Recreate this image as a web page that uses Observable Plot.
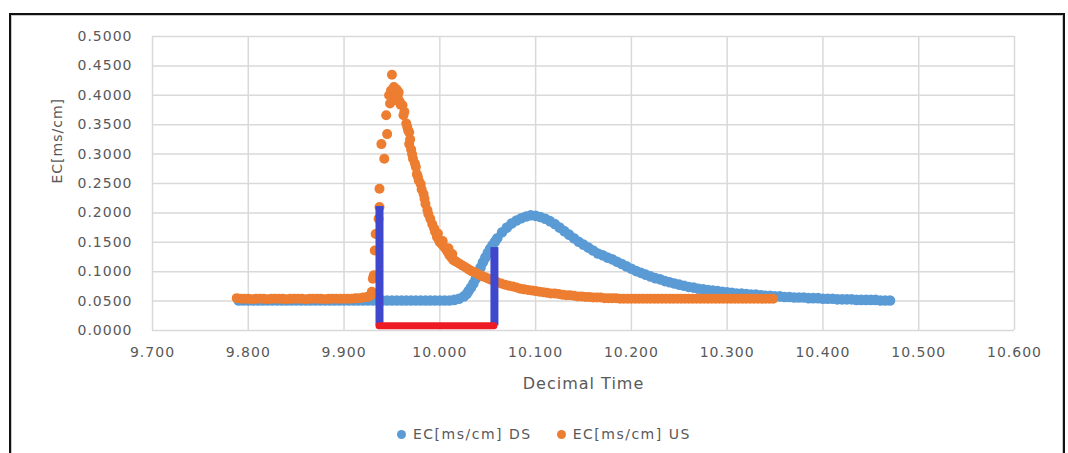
<!DOCTYPE html>
<html>
<head>
<meta charset="utf-8">
<script src="https://cdn.jsdelivr.net/npm/d3@7"></script>
<script src="https://cdn.jsdelivr.net/npm/@observablehq/plot@0.6"></script>
<style>
  html, body { margin: 0; padding: 0; background: #fff; }
  body { width: 1068px; height: 453px; overflow: hidden; position: relative; font-family: "DejaVu Sans", sans-serif; }
  #frame { position: absolute; left: 9px; top: 12.5px; width: 1056px; height: 520px; box-sizing: border-box;
           border: 2.5px solid #111; box-shadow: inset 0 0 0 1px #c8c8c8; }
  #chart { position: absolute; left: 0; top: 0; }
  #chart text { letter-spacing: 1px; }
  #legend { position: absolute; left: 397px; top: 425px; display: flex; align-items: center; gap: 25px;
            font-size: 14px; letter-spacing: 1.5px; color: #595959; white-space: nowrap; }
  .item { display: flex; align-items: center; gap: 7px; line-height: 18px; }
  .sw { width: 9px; height: 9px; border-radius: 50%; display: inline-block; }
</style>
</head>
<body>
<div id="frame"></div>
<div id="chart"></div>
<div id="legend"></div>
<script>
// ---- axis ticks ----
const xTicks = [9.7, 9.8, 9.9, 10.0, 10.1, 10.2, 10.3, 10.4, 10.5, 10.6];
const yTicks = [0, 0.05, 0.1, 0.15, 0.2, 0.25, 0.3, 0.35, 0.4, 0.45, 0.5];
const seriesNames = ["EC[ms/cm] DS", "EC[ms/cm] US"];
const seriesColors = ["#5B9BD5", "#ED7D31"];
const xLabel = "Decimal Time";
const yLabel = "EC[ms/cm]";

// ---- DS series (blue) ----
const dsTime = [
  9.790, 9.795, 9.800, 9.805, 9.810, 9.815, 9.820, 9.825, 9.830, 9.835,
  9.840, 9.845, 9.850, 9.855, 9.860, 9.865, 9.870, 9.875, 9.880, 9.885,
  9.890, 9.895, 9.900, 9.905, 9.910, 9.915, 9.920, 9.925, 9.930, 9.935,
  9.940, 9.945, 9.950, 9.955, 9.960, 9.965, 9.970, 9.975, 9.980, 9.985,
  9.990, 9.995, 10.000, 10.005, 10.010, 10.015, 10.020, 10.025, 10.028, 10.030,
  10.0325, 10.035, 10.0375, 10.040, 10.0425, 10.045, 10.0475, 10.050, 10.0525, 10.055,
  10.0575, 10.060, 10.065, 10.070, 10.075, 10.080, 10.085,
  10.090, 10.095, 10.100, 10.105, 10.110, 10.115, 10.120, 10.125, 10.130, 10.135,
  10.140, 10.145, 10.150, 10.155, 10.160, 10.165, 10.170, 10.175, 10.180, 10.185,
  10.190, 10.195, 10.200, 10.205, 10.210, 10.215, 10.220, 10.225, 10.230, 10.235,
  10.240, 10.245, 10.250, 10.255, 10.260, 10.265, 10.270, 10.275, 10.280, 10.285,
  10.290, 10.295, 10.300, 10.305, 10.310, 10.315, 10.320, 10.325, 10.330, 10.335,
  10.340, 10.345, 10.350, 10.355, 10.360, 10.365, 10.370, 10.375, 10.380, 10.385,
  10.390, 10.395, 10.400, 10.405, 10.410, 10.415, 10.420, 10.425, 10.430, 10.435,
  10.440, 10.445, 10.450, 10.455, 10.460, 10.465, 10.470
];
const dsEC = [
  0.051, 0.051, 0.051, 0.051, 0.051, 0.051, 0.051, 0.051, 0.051, 0.051,
  0.051, 0.051, 0.051, 0.051, 0.051, 0.051, 0.051, 0.051, 0.051, 0.051,
  0.051, 0.051, 0.051, 0.051, 0.051, 0.051, 0.051, 0.051, 0.051, 0.051,
  0.051, 0.051, 0.051, 0.051, 0.051, 0.051, 0.051, 0.051, 0.051, 0.051,
  0.051, 0.051, 0.051, 0.051, 0.051, 0.052, 0.054, 0.058, 0.062, 0.067,
  0.073, 0.080, 0.088, 0.097, 0.107, 0.116, 0.124, 0.132, 0.139, 0.145,
  0.151, 0.157, 0.167, 0.175, 0.182, 0.187, 0.191,
  0.194, 0.196, 0.195, 0.193, 0.190, 0.186, 0.181, 0.175, 0.169, 0.163,
  0.157, 0.151, 0.146, 0.141, 0.136, 0.131, 0.128, 0.124, 0.121, 0.117,
  0.113, 0.109, 0.105, 0.101, 0.098, 0.095, 0.092, 0.089, 0.087, 0.084,
  0.082, 0.080, 0.078, 0.076, 0.074, 0.073, 0.071, 0.070, 0.069, 0.068,
  0.067, 0.066, 0.065, 0.064, 0.063, 0.063, 0.062, 0.061, 0.061, 0.060,
  0.059, 0.059, 0.058, 0.058, 0.057, 0.057, 0.056, 0.056, 0.056, 0.055,
  0.055, 0.055, 0.054, 0.054, 0.054, 0.053, 0.053, 0.053, 0.053, 0.052,
  0.052, 0.052, 0.052, 0.052, 0.051, 0.051, 0.051
];

// ---- US series (orange) ----
const usTime = [
  9.788, 9.792, 9.796, 9.800, 9.804, 9.808, 9.812, 9.816, 9.820, 9.824,
  9.828, 9.832, 9.836, 9.840, 9.844, 9.848, 9.852, 9.856, 9.860, 9.864,
  9.868, 9.872, 9.876, 9.880, 9.884, 9.888, 9.892, 9.896, 9.900, 9.904,
  9.908, 9.912, 9.916, 9.920, 9.924, 9.926, 9.928, 9.929, 9.930, 9.931,
  9.932, 9.933, 9.936, 9.937, 9.937, 9.939, 9.942, 9.944, 9.945, 9.947,
  9.948, 9.949, 9.950, 9.951, 9.952, 9.953, 9.954, 9.955, 9.956, 9.957,
  9.958, 9.959, 9.961, 9.962, 9.963, 9.965, 9.966, 9.967, 9.968, 9.968,
  9.969, 9.970, 9.971, 9.972, 9.974, 9.975, 9.976, 9.977, 9.978, 9.980,
  9.981, 9.983, 9.984, 9.985, 9.987, 9.988, 9.990, 9.992, 9.994, 9.995,
  9.997, 9.998, 9.999, 10.000, 10.002, 10.003, 10.004, 10.006, 10.008, 10.009,
  10.010, 10.012, 10.013, 10.014, 10.016, 10.018, 10.021, 10.024, 10.027, 10.030,
  10.033, 10.036, 10.039, 10.042, 10.045, 10.048, 10.051, 10.054, 10.057, 10.060,
  10.064, 10.068, 10.072, 10.076, 10.080, 10.084, 10.088, 10.092, 10.096, 10.100,
  10.104, 10.108, 10.112, 10.116, 10.120, 10.124, 10.128, 10.132, 10.136, 10.140,
  10.144, 10.148, 10.152, 10.156, 10.160, 10.164, 10.168, 10.172, 10.176, 10.180,
  10.184, 10.188, 10.192, 10.196, 10.200, 10.204, 10.208, 10.212, 10.216, 10.220,
  10.224, 10.228, 10.232, 10.236, 10.240, 10.244, 10.248, 10.252, 10.256, 10.260,
  10.264, 10.268, 10.272, 10.276, 10.280, 10.284, 10.288, 10.292, 10.296, 10.300,
  10.304, 10.308, 10.312, 10.316, 10.320, 10.324, 10.328, 10.332, 10.336, 10.340,
  10.344, 10.348
];
const usEC = [
  0.055, 0.054, 0.054, 0.054, 0.053, 0.054, 0.054, 0.054, 0.053, 0.054,
  0.054, 0.054, 0.054, 0.053, 0.054, 0.054, 0.054, 0.054, 0.053, 0.054,
  0.054, 0.054, 0.054, 0.053, 0.054, 0.054, 0.054, 0.054, 0.054, 0.054,
  0.054, 0.055, 0.055, 0.056, 0.057, 0.058, 0.060, 0.066, 0.088, 0.094,
  0.136, 0.164, 0.190, 0.210, 0.241, 0.317, 0.292, 0.366, 0.334, 0.400,
  0.386, 0.408, 0.435, 0.398, 0.414, 0.392, 0.404, 0.410, 0.397, 0.405,
  0.390, 0.384, 0.383, 0.366, 0.372, 0.352, 0.346, 0.340, 0.337, 0.317,
  0.325, 0.308, 0.300, 0.292, 0.284, 0.278, 0.266, 0.262, 0.255, 0.249,
  0.240, 0.232, 0.224, 0.215, 0.205, 0.198, 0.190, 0.181, 0.174, 0.168,
  0.159, 0.165, 0.154, 0.150, 0.147, 0.152, 0.143, 0.139, 0.134, 0.140,
  0.128, 0.124, 0.130, 0.120, 0.118, 0.116, 0.113, 0.110, 0.107, 0.104,
  0.101, 0.099, 0.097, 0.094, 0.092, 0.090, 0.088, 0.086, 0.084, 0.082,
  0.080, 0.078, 0.076, 0.075, 0.073, 0.071, 0.070, 0.069, 0.068, 0.067,
  0.066, 0.065, 0.064, 0.063, 0.063, 0.062, 0.061, 0.060, 0.060, 0.059,
  0.058, 0.058, 0.057, 0.057, 0.056, 0.056, 0.056, 0.055, 0.055, 0.055,
  0.055, 0.054, 0.054, 0.054, 0.054, 0.054, 0.054, 0.054, 0.054, 0.054,
  0.054, 0.054, 0.054, 0.054, 0.054, 0.054, 0.054, 0.054, 0.054, 0.054,
  0.054, 0.054, 0.054, 0.054, 0.054, 0.054, 0.054, 0.054, 0.054, 0.054,
  0.054, 0.054, 0.054, 0.054, 0.054, 0.054, 0.054, 0.054, 0.054, 0.054,
  0.054, 0.054
];

// ---- hand-drawn annotation (vertical blue bars, red base) ----
const markTime = [9.937, 10.057];
const markTop = [0.211, 0.141];
const markBase = [0.008];
const markColors = ["#3F48CC", "#ED1C24"];

const ds = dsTime.map((t, i) => ({t, v: dsEC[i]}));
const us = usTime.map((t, i) => ({t, v: usEC[i]}));
const bars = markTime.map((t, i) => ({t, top: markTop[i]}));

const chart = Plot.plot({
  width: 1068,
  height: 400,
  marginLeft: 152,
  marginRight: 54,
  marginTop: 36,
  marginBottom: 70,
  style: {fontFamily: "'DejaVu Sans', sans-serif", fontSize: "14px", color: "#595959", background: "transparent", overflow: "visible"},
  x: {domain: [9.7, 10.6], ticks: xTicks, tickFormat: d3.format(".3f"), label: null, tickSize: 0, tickPadding: 17},
  y: {domain: [0, 0.5], ticks: yTicks, tickFormat: d3.format(".4f"), label: null, tickSize: 0, tickPadding: 20},
  marks: [
    Plot.gridX(xTicks, {stroke: "#d9d9d9", strokeOpacity: 1, strokeWidth: 1.5}),
    Plot.gridY(yTicks, {stroke: "#d9d9d9", strokeOpacity: 1, strokeWidth: 1.5}),
    Plot.dot(ds, {x: "t", y: "v", r: 5.3, fill: seriesColors[0]}),
    Plot.dot(us, {x: "t", y: "v", r: 5.0, fill: seriesColors[1]}),
    Plot.ruleX(bars, {x: "t", y1: () => markBase[0], y2: "top", stroke: markColors[0], strokeWidth: 8}),
    Plot.ruleY(markBase, {y: d => d, x1: () => markTime[0], x2: () => markTime[1], stroke: markColors[1], strokeWidth: 7, strokeLinecap: "round"}),
    Plot.text([yLabel], {frameAnchor: "left", dx: -95, rotate: -90, text: d => d, fill: "#595959", fontSize: 14}),
    Plot.text([xLabel], {frameAnchor: "bottom", dy: 53, text: d => d, fill: "#595959", fontSize: 16, lineAnchor: "middle"})
  ]
});
document.getElementById("chart").appendChild(chart);

const legend = document.getElementById("legend");
seriesNames.forEach((name, i) => {
  const item = document.createElement("span");
  item.className = "item";
  const sw = document.createElement("span");
  sw.className = "sw";
  sw.style.background = seriesColors[i];
  const label = document.createElement("span");
  label.textContent = name;
  item.appendChild(sw);
  item.appendChild(label);
  legend.appendChild(item);
});
</script>
</body>
</html>
